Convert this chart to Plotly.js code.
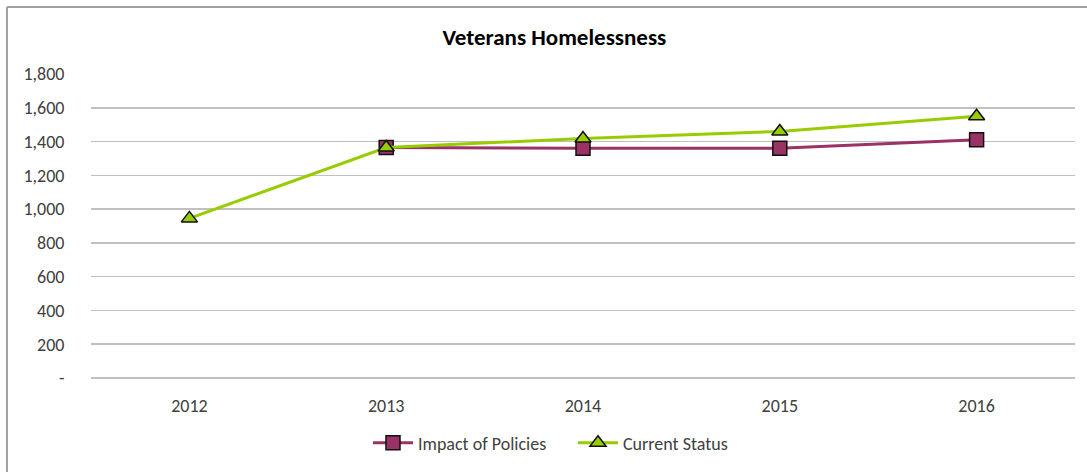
<!DOCTYPE html>
<html>
<head>
<meta charset="utf-8">
<script src="https://cdn.plot.ly/plotly-3.0.1.min.js"></script>
<style>
html,body{margin:0;padding:0;background:#fff;}
#chart{width:1087px;height:472px;}
</style>
</head>
<body>
<div id="chart"></div>
<script>
const years = ["2012", "2013", "2014", "2015", "2016"];
const impactOfPolicies = [null, 1365, 1360, 1360, 1410];
const currentStatus = [945, 1365, 1418, 1460, 1550];
const yTickVals = [0, 200, 400, 600, 800, 1000, 1200, 1400, 1600, 1800];
const yTickText = ["-", "200", "400", "600", "800", "1,000", "1,200", "1,400", "1,600", "1,800"];

const font = "Calibri, Carlito, 'Liberation Sans Narrow', 'Open Sans', sans-serif";

const traces = [
  {
    x: years, y: impactOfPolicies, name: "Impact of Policies",
    type: "scatter", mode: "lines+markers",
    line: {color: "#993366", width: 3},
    marker: {symbol: "square", size: 14, color: "#993366", line: {color: "#111", width: 1.5}}
  },
  {
    x: years, y: currentStatus, name: "Current Status",
    type: "scatter", mode: "lines+markers",
    line: {color: "#99cc00", width: 3},
    marker: {symbol: "triangle-up", size: 14, color: "#99cc00", line: {color: "#111", width: 1.5}}
  }
];

const layout = {
  width: 1087, height: 472,
  paper_bgcolor: "#ffffff", plot_bgcolor: "#ffffff",
  margin: {l: 91, r: 12, t: 74, b: 93},
  font: {family: font, size: 18, color: "#404040"},
  title: {text: "<b>Veterans Homelessness</b>", x: 0.51, xanchor: "center", y: 0.922, yanchor: "middle",
          font: {family: font, size: 23, color: "#000"}},
  xaxis: {
    type: "category", range: [-0.5, 4.5], showgrid: false, zeroline: false,
    showline: false, ticks: "outside", ticklen: 11, tickcolor: "rgba(0,0,0,0)",
    tickfont: {family: font, size: 18, color: "#404040"}
  },
  yaxis: {
    range: [0, 1800], tickvals: yTickVals, ticktext: yTickText,
    showgrid: true, gridcolor: "#c0c0c0", gridwidth: 1.5,
    zeroline: true, zerolinecolor: "#c0c0c0", zerolinewidth: 1.5,
    showline: false, ticks: "outside", ticklen: 22, tickcolor: "rgba(0,0,0,0)",
    tickfont: {family: font, size: 18, color: "#404040"}, fixedrange: true
  },
  legend: {orientation: "h", x: 0.2815, xanchor: "left", y: -0.21, yanchor: "middle",
           font: {family: font, size: 18, color: "#404040"}, itemwidth: 40,
           entrywidth: 150, entrywidthmode: "pixels", traceorder: "normal"},
  shapes: [
    {type: "line", xref: "paper", yref: "paper", x0: -0.0854, x1: 1.02, y0: 1.22, y1: 1.22,
     line: {color: "#a0a0a0", width: 2}},
    {type: "line", xref: "paper", yref: "paper", x0: -0.0854, x1: -0.0854, y0: 1.22, y1: -0.35,
     line: {color: "#a0a0a0", width: 2}}
  ],
  showlegend: true
};

Plotly.newPlot("chart", traces, layout, {displayModeBar: false, staticPlot: true});
</script>
</body>
</html>
